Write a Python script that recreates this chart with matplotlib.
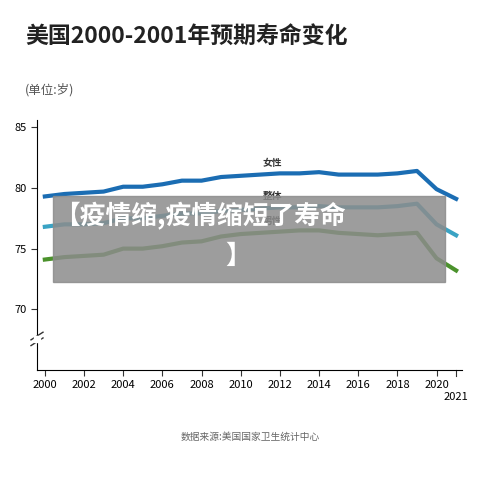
import matplotlib
matplotlib.use("Agg")
import matplotlib.pyplot as plt
from matplotlib.patches import Rectangle
from matplotlib.lines import Line2D

plt.rcParams['font.family'] = ['Noto Sans CJK SC', 'DejaVu Sans']

years = list(range(2000, 2022))
female = [79.3, 79.5, 79.6, 79.7, 80.1, 80.1, 80.3, 80.6, 80.6, 80.9, 81.0, 81.1, 81.2, 81.2, 81.3, 81.1, 81.1, 81.1, 81.2, 81.4, 79.9, 79.1]
overall = [76.8, 77.0, 77.0, 77.1, 77.5, 77.5, 77.7, 77.9, 77.9, 78.1, 78.2, 78.3, 78.4, 78.4, 78.5, 78.4, 78.4, 78.4, 78.5, 78.7, 77.0, 76.1]
male = [74.1, 74.3, 74.4, 74.5, 75.0, 75.0, 75.2, 75.5, 75.6, 76.0, 76.2, 76.3, 76.4, 76.5, 76.5, 76.3, 76.2, 76.1, 76.2, 76.3, 74.2, 73.2]
yticks = [70, 75, 80, 85]
xticks = list(range(2000, 2021, 2))

fig = plt.figure(figsize=(5, 4.78), dpi=100)
ax = fig.add_axes([0.074, 0.226, 0.85, 0.523])
ax.plot(years, female, color='#1b6db3', lw=3)
ax.plot(years, overall, color='#3aa3c4', lw=3)
ax.plot(years, male, color='#4b922c', lw=3)
ax.set_xlim(1999.6, 2021.3)
ax.set_ylim(65, 85.6)
ax.set_yticks(yticks)
ax.set_xticks(xticks)
ax.tick_params(labelsize=8, length=4, color='#333')
for s in ['top', 'right']:
    ax.spines[s].set_visible(False)
ax.text(2011.6, 81.8, '女性', fontsize=7, ha='center', fontweight='bold', color='#333')
ax.text(2011.6, 79.1, '整体', fontsize=7, ha='center', fontweight='bold', color='#333')
ax.text(2011.6, 77.0, '男性', fontsize=7, ha='center', fontweight='bold', color='#333')
ax.plot([2021, 2021], [65, 64.5], color='#333', lw=0.8, clip_on=False)
ax.text(2021, 63.2, '2021', fontsize=8, ha='center', va='top')

# axis break marks
for yy in (0.285, 0.297):
    fig.add_artist(Line2D([0.062, 0.086], [yy - 0.008, yy + 0.008], color='#333', lw=1))
fig.add_artist(Rectangle((0.068, 0.285), 0.012, 0.012, color='white', zorder=3))

fig.text(0.05, 0.91, '美国2000-2001年预期寿命变化', fontsize=16.5, fontweight='bold', color='#222')
fig.text(0.05, 0.805, '(单位:岁)', fontsize=9, color='#555')
fig.text(0.5, 0.08, '数据来源:美国国家卫生统计中心', fontsize=7, color='#666', ha='center')

fig.add_artist(Rectangle((0.106, 0.41), 0.784, 0.18, color='#8c8c8c', alpha=0.85, zorder=5))
fig.text(0.108, 0.547, '【疫情缩,疫情缩短了寿命', fontsize=18.5, fontweight='bold', color='white', va='center', zorder=6)
fig.text(0.45, 0.463, '】', fontsize=18.5, fontweight='bold', color='white', va='center', zorder=6)

fig.savefig('out.png', dpi=100)
